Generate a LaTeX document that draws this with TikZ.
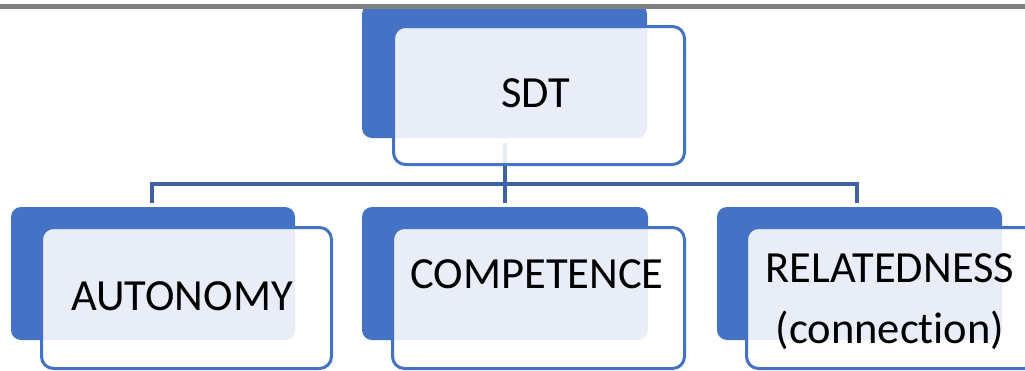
\documentclass[tikz,border=0pt]{standalone}
\usepackage{fontspec}
\setmainfont{Carlito}[RawFeature={-liga;-clig;-calt;-dlig}]
\definecolor{accblue}{RGB}{68,114,196}
\definecolor{linkblue}{RGB}{64,98,165}
\definecolor{topgrey}{RGB}{128,128,128}
\tikzset{
  backbox/.style={fill=accblue, rounded corners=10pt},
  frontbox/.style={draw=accblue, line width=3pt, fill=white, fill opacity=0.88, rounded corners=12pt},
  link/.style={draw=linkblue, line width=3.3pt},
  lbl/.style={font=\fontsize{44.5}{52}\selectfont, text=black, inner sep=0pt, anchor=base},
}
\begin{document}
\begin{tikzpicture}[x=1pt,y=-1pt]
\useasboundingbox (0,0) rectangle (1025,370);
\begin{scope}
\clip (0,0) rectangle (1025,370);
% connectors
\coordinate (sdtfoot) at (505,143);
\coordinate (hub) at (505,184);
\coordinate (lefttop) at (152,184);
\coordinate (righttop) at (857,184);
\coordinate (leftend) at (152,203);
\coordinate (midend) at (505,203);
\coordinate (rightend) at (857,203);
\draw[link] (sdtfoot) -- (midend);
\draw[link] (leftend) -- (lefttop) -- (righttop) -- (rightend);
% SDT
\path[backbox] (362,4) rectangle (647,138);
\node[frontbox, minimum width=291pt, minimum height=138pt, anchor=north west] (sdtbox) at (392,25) {};
\node[lbl] (sdt) at (536,107) {SDT};
% AUTONOMY
\path[backbox] (11,207) rectangle (295,340);
\node[frontbox, minimum width=290pt, minimum height=141pt, anchor=north west] (autbox) at (40,226) {};
\node[lbl] (aut) at (182,310) {AUTONOMY};
% COMPETENCE
\path[backbox] (362,207) rectangle (648,340);
\node[frontbox, minimum width=292pt, minimum height=141pt, anchor=north west] (compbox) at (391,226) {};
\node[lbl] (comp) at (537,288) {COMPETENCE};
% RELATEDNESS
\path[backbox] (717,207) rectangle (1002,340);
\node[frontbox, minimum width=290pt, minimum height=141pt, anchor=north west] (relbox) at (745,226) {};
\node[lbl] (rel) at (890,282) {RELATEDNESS};
\node[lbl] (conn) at (890,343) {(connection)};
% top grey rule
\coordinate (ruleL) at (0,6.5);
\coordinate (ruleR) at (1025,6.5);
\draw[topgrey, line width=5pt] (ruleL) -- (ruleR);
\end{scope}
\end{tikzpicture}
\end{document}
